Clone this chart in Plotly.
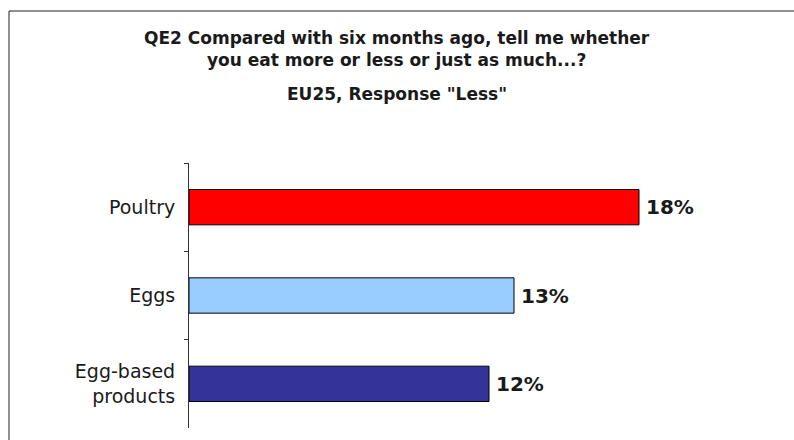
import plotly.graph_objects as go

categories = ["Poultry", "Eggs", "Egg-based<br>products"]
values = [18, 13, 12]
value_labels = ["18%", "13%", "12%"]
bar_colors = ["#FF0000", "#99CCFF", "#333399"]

title_question = "QE2 Compared with six months ago, tell me whether<br>you eat more or less or just as much...?"
title_subset = "EU25, Response \"Less\""

W, H = 794, 440
L, R, T, B = 189, 5, 163, 12
PW, PH = W - L - R, H - T - B
TEXT = "#1a1a1a"


def px_x(x):
    return (x - L) / PW


def px_y(y):
    return (H - B - y) / PH


fig = go.Figure()
fig.add_trace(
    go.Bar(
        x=values,
        y=categories,
        orientation="h",
        marker={"color": bar_colors, "line": {"color": "#000000", "width": 1}},
        hoverinfo="skip",
    )
)

title_font = {"family": "DejaVu Sans", "size": 17, "color": TEXT, "weight": "bold"}
annotations = [
    {
        "text": text,
        "xref": "paper",
        "yref": "paper",
        "x": px_x(397),
        "y": px_y(y),
        "xanchor": "center",
        "yanchor": "middle",
        "align": "center",
        "showarrow": False,
        "font": title_font,
    }
    for text, y in [(title_question, 49), (title_subset, 94)]
]

# value labels just right of each bar end
annotations += [
    {
        "text": lab,
        "xref": "x",
        "yref": "y",
        "x": v,
        "y": cat,
        "xanchor": "left",
        "yanchor": "middle",
        "xshift": 5,
        "showarrow": False,
        "font": {"family": "DejaVu Sans", "size": 20, "color": TEXT, "weight": "bold"},
    }
    for cat, v, lab in zip(categories, values, value_labels)
]

fig.update_layout(
    width=W,
    height=H,
    margin={"l": L, "r": R, "t": T, "b": B},
    paper_bgcolor="white",
    plot_bgcolor="white",
    showlegend=False,
    bargap=0.6,
    font={"family": "DejaVu Sans", "size": 19, "color": TEXT},
    xaxis={
        "range": [0, 24],
        "visible": False,
        "fixedrange": True,
    },
    yaxis={
        "autorange": "reversed",
        "showline": True,
        "linecolor": "#333333",
        "linewidth": 1,
        "ticks": "outside",
        "tickson": "boundaries",
        "ticklen": 4,
        "tickcolor": "#333333",
        "showgrid": False,
        "tickfont": {"family": "DejaVu Sans", "size": 19, "color": TEXT},
        "ticklabelstandoff": 9,
        "fixedrange": True,
    },
    shapes=[
        {
            "type": "rect",
            "xref": "paper",
            "yref": "paper",
            "x0": px_x(9),
            "x1": px_x(820),
            "y0": px_y(460),
            "y1": px_y(11),
            "line": {"color": "#222222", "width": 1},
            "fillcolor": "rgba(0,0,0,0)",
            "layer": "below",
        }
    ],
    annotations=annotations,
)

# drop the browser's default 8px body margin so the figure sits at the page origin
fig.write_html(
    "out.html",
    config={"displayModeBar": False},
    post_script="document.body.style.margin = '0';",
)
